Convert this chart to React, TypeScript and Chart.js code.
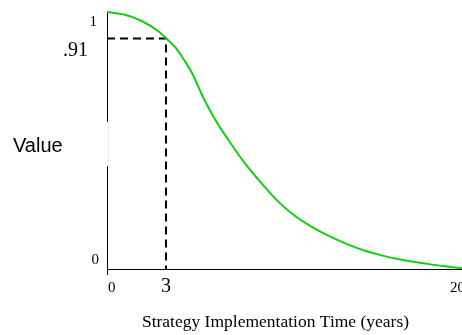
import React, { useEffect, useRef } from "react";
import { Chart, registerables } from "chart.js";

Chart.register(...registerables);

// ---- data ----
const timeYears = [0, 1, 2, 3, 3.5, 4, 4.5, 5, 5.5, 6, 6.5, 7, 7.5, 8, 9, 10, 11, 12, 13, 14, 15, 16, 17, 18, 19, 20, 20.75];
const valueSeries = [1.0, 0.99, 0.966, 0.925, 0.895, 0.862, 0.814, 0.759, 0.685, 0.620, 0.562, 0.512, 0.463, 0.417, 0.336, 0.263, 0.206, 0.163, 0.128, 0.098, 0.073, 0.054, 0.039, 0.027, 0.017, 0.009, 0.003];
const markerTime = 3.45;
const markerValue = 0.897;
const xTickValues = [0, markerTime, 20];
const xTickLabels = ["0", "3", "20"];
const yTickValues = [0, markerValue, 1];
const yTickLabels = ["0", ".91", "1"];
const xMin = 0;
const xMax = 20.76;
const yMin = 0;
const yMax = 1;
const xAxisTitle = "Strategy Implementation Time (years)";
const yAxisTitle = "Value";

const SERIF = "'Liberation Serif', 'Times New Roman', serif";
const SANS = "'Liberation Sans', Arial, sans-serif";

const decorPlugin = {
  id: "decor",
  beforeDatasetsDraw(chart: any) {
    const { ctx, chartArea, scales } = chart;
    const xs = scales.x, ys = scales.y;
    const ax = Math.round(xs.getPixelForValue(xMin));
    const ay = Math.round(ys.getPixelForValue(yMin));
    ctx.save();
    ctx.strokeStyle = "#000";
    ctx.lineWidth = 1;
    ctx.beginPath();
    ctx.moveTo(ax + 0.5, chartArea.top);
    ctx.lineTo(ax + 0.5, ay + 6);
    ctx.moveTo(ax, ay + 0.5);
    ctx.lineTo(chartArea.right, ay + 0.5);
    ctx.stroke();
    // white gap over y axis beside the axis title
    const g1 = ys.getPixelForValue(0.573);
    const g2 = ys.getPixelForValue(0.40);
    ctx.fillStyle = "#fff";
    ctx.fillRect(ax - 6, g1, 7, g2 - g1);
    ctx.strokeStyle = "#ececec";
    ctx.beginPath();
    ctx.moveTo(ax + 1.5, g1);
    ctx.lineTo(ax + 1.5, g2);
    ctx.stroke();
    ctx.restore();
  },
  afterDraw(chart: any) {
    const { ctx, scales } = chart;
    const xs = scales.x, ys = scales.y;
    const ax = Math.round(xs.getPixelForValue(xMin));
    const ay = Math.round(ys.getPixelForValue(yMin));
    ctx.save();
    ctx.fillStyle = "#000";
    ctx.textBaseline = "alphabetic";
    // x tick labels
    xTickValues.forEach((v, i) => {
      const px = xs.getPixelForValue(v);
      const big = v === markerTime;
      ctx.font = (big ? "20px " : "15px ") + SERIF;
      ctx.textAlign = big ? "center" : "left";
      ctx.fillText(xTickLabels[i], big ? px : px + 1, ay + 23);
    });
    // y tick labels
    yTickValues.forEach((v, i) => {
      const py = ys.getPixelForValue(v);
      ctx.textAlign = "right";
      if (v === markerValue) {
        ctx.font = "20px " + SERIF;
        ctx.fillText(yTickLabels[i], ax - 19, py + 18);
      } else if (v === yMin) {
        ctx.font = "15px " + SERIF;
        ctx.fillText(yTickLabels[i], ax - 8, py - 5);
      } else {
        ctx.font = "15px " + SERIF;
        ctx.fillText(yTickLabels[i], ax - 10, py + 14);
      }
    });
    // axis titles
    ctx.font = "17.5px " + SERIF;
    ctx.textAlign = "center";
    ctx.fillText(xAxisTitle, 275.5, 326.5);
    ctx.font = "20px " + SANS;
    ctx.textAlign = "left";
    ctx.fillText(yAxisTitle, 13, 152);
    ctx.restore();
  },
};

export default function App() {
  const ref = useRef<HTMLCanvasElement | null>(null);
  useEffect(() => {
    if (!ref.current) return;
    const chart = new Chart(ref.current, {
      type: "line",
      data: {
        datasets: [
          {
            data: timeYears.map((t, i) => ({ x: t, y: valueSeries[i] })),
            borderColor: "#12d012",
            borderWidth: 2,
            pointRadius: 0,
            cubicInterpolationMode: "monotone",
            fill: false,
            clip: false,
          } as any,
          {
            data: [
              { x: xMin, y: markerValue },
              { x: markerTime, y: markerValue },
              { x: markerTime, y: yMin },
            ],
            borderColor: "#000",
            borderWidth: 2,
            borderDash: [8, 5],
            pointRadius: 0,
            tension: 0,
            fill: false,
            clip: false,
          } as any,
        ],
      },
      options: {
        animation: false,
        responsive: false,
        devicePixelRatio: 1,
        layout: { padding: { left: 107, top: 12, right: 0, bottom: 66 } },
        plugins: { legend: { display: false }, tooltip: { enabled: false } },
        scales: {
          x: { type: "linear", display: false, min: xMin, max: xMax },
          y: { type: "linear", display: false, min: yMin, max: yMax },
        },
      },
      plugins: [decorPlugin],
    });
    return () => chart.destroy();
  }, []);
  return (
    <div style={{ position: "fixed", left: 0, top: 0, width: 462, height: 335, background: "#fff" }}>
      <canvas ref={ref} width={462} height={335} style={{ display: "block" }} />
    </div>
  );
}
